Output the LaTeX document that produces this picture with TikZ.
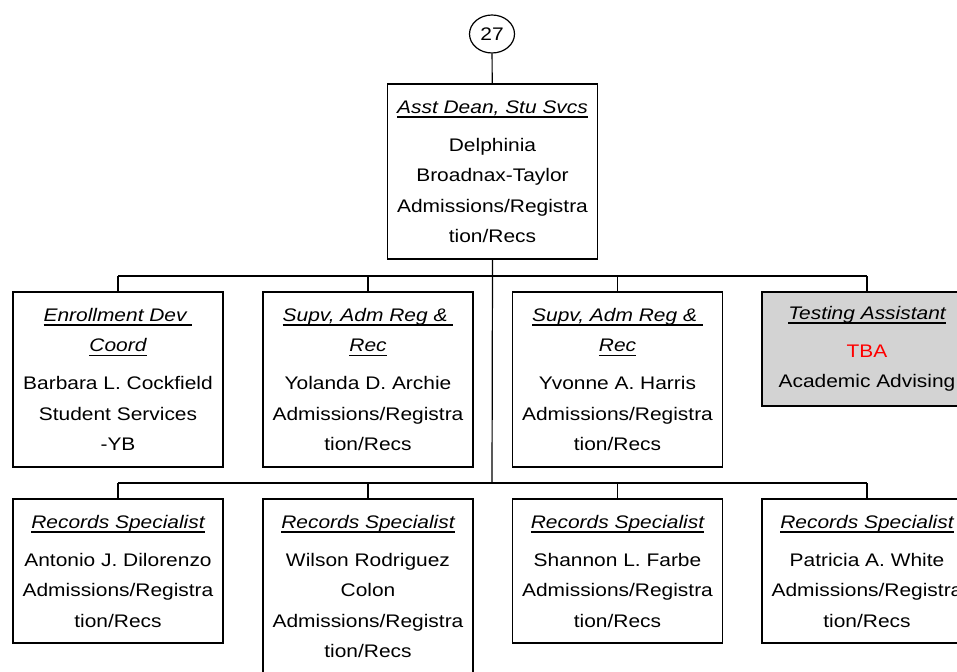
\documentclass[tikz,border=0pt]{standalone}
\usepackage{fontspec}
\setmainfont[FakeStretch=1.15]{Liberation Sans}
\usepackage{xcolor}
\usepackage{tikz}
\usetikzlibrary{shapes.geometric}
\definecolor{vacantgrey}{RGB}{211,211,211}
\newcommand\ttl[1]{\setbox0\hbox{\itshape #1}\rlap{\rule[-4.5pt]{\wd0}{1.6pt}}\box0}

\begin{document}
\begin{tikzpicture}[x=1pt,y=-1pt]
\tikzstyle{every node}+=[inner sep=0pt]
\tikzstyle{post}=[draw, line width=1.6pt, minimum width=210pt, align=center, font=\fontsize{18.2}{30.5}\selectfont]
\tikzstyle{link}=[line width=1.2pt]
\useasboundingbox (0,0) rectangle (957,671);
\clip (0,0) rectangle (957,671);
\node [ellipse, draw, line width=1.2pt, minimum width=45pt, minimum height=38pt, font=\fontsize{18.2}{22}\selectfont] (num) at (492,34) {27};
\node [post, minimum height=175pt] (dean) at (492.5,171.5) {\ttl{Asst Dean, Stu Svcs}\\[7.5pt] Delphinia\\ Broadnax-Taylor\\ Admissions/Registra\\ tion/Recs};
\node [post, minimum height=175pt] (enroll) at (118,379.5) {\ttl{Enrollment Dev\ }\\ \ttl{Coord}\\[7.5pt] Barbara L. Cockfield\\ Student Services\\ -YB};
\node [post, minimum height=175pt] (supva) at (368,379.5) {\ttl{Supv, Adm Reg \&\ }\\ \ttl{Rec}\\[7.5pt] Yolanda D. Archie\\ Admissions/Registra\\ tion/Recs};
\node [post, minimum height=175pt] (supvb) at (617.5,379.5) {\ttl{Supv, Adm Reg \&\ }\\ \ttl{Rec}\\[7.5pt] Yvonne A. Harris\\ Admissions/Registra\\ tion/Recs};
\node [post, fill=vacantgrey, minimum height=114pt] (testing) at (867,349) {\ttl{Testing Assistant}\\[7.5pt] \textcolor{red}{TBA}\\ Academic Advising};
\node [post, minimum height=144pt] (recsa) at (118,571) {\ttl{Records Specialist}\\[7.5pt] Antonio J. Dilorenzo\\ Admissions/Registra\\ tion/Recs};
\node [post, minimum height=175pt] (recsb) at (368,586.5) {\ttl{Records Specialist}\\[7.5pt] Wilson Rodriguez\\ Colon\\ Admissions/Registra\\ tion/Recs};
\node [post, minimum height=144pt] (recsc) at (617.5,571) {\ttl{Records Specialist}\\[7.5pt] Shannon L. Farbe\\ Admissions/Registra\\ tion/Recs};
\node [post, minimum height=144pt] (recsd) at (867,571) {\ttl{Records Specialist}\\[7.5pt] Patricia A. White\\ Admissions/Registra\\ tion/Recs};
\coordinate (busa) at (492,276);
\coordinate (busb) at (492,483);
\draw [link] (num) -- (dean);
\draw [link] (dean.south) -- (busb);
\draw [link] (busa -| enroll.north) -- (busa -| testing.north);
\draw [link] (busa -| enroll.north) -- (enroll.north);
\draw [link] (busa -| supva.north) -- (supva.north);
\draw [link] (busa -| supvb.north) -- (supvb.north);
\draw [link] (busa -| testing.north) -- (testing.north);
\draw [link] (busb -| recsa.north) -- (busb -| recsd.north);
\draw [link] (busb -| recsa.north) -- (recsa.north);
\draw [link] (busb -| recsb.north) -- (recsb.north);
\draw [link] (busb -| recsc.north) -- (recsc.north);
\draw [link] (busb -| recsd.north) -- (recsd.north);
\end{tikzpicture}
\end{document}
